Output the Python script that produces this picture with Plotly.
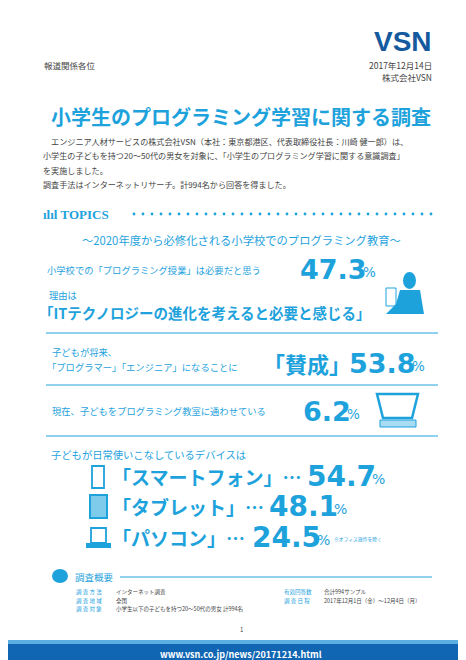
import plotly.graph_objects as go

FONT = "Noto Sans CJK JP"
NUMFONT = "DejaVu Sans"
BLUE = "#1ea2dc"
DARK = "#155a9e"
GREY = "#444444"

topic_pcts = [47.3, 53.8, 6.2]
devices = ["スマートフォン", "タブレット", "パソコン"]
device_pcts = [54.7, 48.1, 24.5]
device_y = [468, 498, 529]
body_lines = [
    "　エンジニア人材サービスの株式会社VSN（本社：東京都港区、代表取締役社長：川崎 健一郎）は、",
    "小学生の子どもを持つ20～50代の男女を対象に、「小学生のプログラミング学習に関する意識調査」",
    "を実施しました。",
    "調査手法はインターネットリサーチ。計994名から回答を得ました。",
]
detail_left = [("調 査 方 法", "インターネット調査"), ("調 査 地 域", "全国"),
               ("調 査 対 象", "小学生以下の子どもを持つ20～50代の男女 計994名")]
detail_right = [("有効回答数", "合計994サンプル"), ("調 査 日 程", "2017年12月1日（金）～12月4日（月）")]

fig = go.Figure()
ann = []


def txt(x, y, s, size, color=GREY, anchor="left", bold=False, family=FONT):
    ann.append(dict(x=x, y=y, text=f"<b>{s}</b>" if bold else s, showarrow=False,
                    xanchor=anchor, yanchor="middle", borderpad=0,
                    font=dict(family=family, size=size, color=color)))


def pct(x, y, value, size=27):
    # big number ending at x, small % sign after it
    txt(x, y, f"{value}", size, BLUE, "right", True, NUMFONT)
    txt(x - 6, y + 3, "%", size * 0.5, BLUE, "left", False, NUMFONT)


txt(425, 33, "VSN", 28, DARK, "right", True, "Liberation Sans")
txt(35, 57, "報道関係各位", 8.5)
txt(425, 57, "2017年12月14日", 8.5, GREY, "right")
txt(425, 69, "株式会社VSN", 8.5, GREY, "right")
txt(233, 108, "小学生のプログラミング学習に関する調査", 20, BLUE, "center", True)
for i, line in enumerate(body_lines):
    txt(34, 133 + i * 14.5, line, 8.1)

txt(34, 206, "<b>ılıl TOPICS</b>", 13, BLUE, family="Liberation Sans Narrow")
fig.add_trace(go.Scatter(x=list(range(126, 432, 9)), y=[206] * 34, mode="markers",
                         marker=dict(size=2.8, color=BLUE), hoverinfo="skip"))
txt(233, 232, "～2020年度から必修化される小学校でのプログラミング教育～", 11.3, BLUE, "center")

txt(38, 262, "小学校での「プログラミング授業」は必要だと思う", 9.3, BLUE)
pct(360, 261, topic_pcts[0])
txt(40, 287, "理由は", 9.3, BLUE)
txt(30, 304, "「ITテクノロジーの進化を考えると必要と感じる」", 14.5, BLUE, bold=True)
txt(43, 344, "子どもが将来、", 9.3, BLUE)
txt(38, 359, "「プログラマー」「エンジニア」になることに", 9.3, BLUE)
txt(254, 355, "「賛成」", 22, BLUE, bold=True)
pct(409, 355, topic_pcts[1])
txt(43, 403, "現在、子どもをプログラミング教室に通わせている", 9.3, BLUE)
pct(344, 403, topic_pcts[2])
for y in [325, 377, 428]:
    fig.add_shape(type="line", x0=38, x1=430, y0=y, y1=y, line=dict(color=BLUE, width=1))

txt(42, 446, "子どもが日常使いこなしているデバイスは", 10.3, BLUE)
num_end = [369, 331, 314]
for name, p, y, xe in zip(devices, device_pcts, device_y, num_end):
    txt(103, y, f"「{name}」…", 19, BLUE, bold=True)
    pct(xe, y, p, 28)
txt(325, 531, "※オフィス操作を除く", 4.8, BLUE)

# device icons
fig.add_shape(type="rect", x0=84, x1=96, y0=458, y1=480, line=dict(color=BLUE, width=1.8))
fig.add_shape(type="rect", x0=82, x1=99, y0=487, y1=510, fillcolor="#7fcbec", line=dict(color=BLUE, width=2))
fig.add_shape(type="rect", x0=83, x1=98, y0=520, y1=535, line=dict(color=BLUE, width=1.8))
fig.add_shape(type="rect", x0=78, x1=103, y0=535, y1=540, fillcolor=BLUE, line=dict(width=0))
# person & laptop icons
fig.add_shape(type="circle", x0=395, x1=408, y0=264, y1=281, fillcolor=BLUE, line=dict(width=0))
fig.add_shape(type="path", path="M 392 282 L 412 282 L 416 306 L 378 306 L 388 296 Z",
              fillcolor=BLUE, line=dict(width=0))
fig.add_shape(type="rect", x0=378, x1=388, y0=280, y1=298, line=dict(color=BLUE, width=1))
fig.add_shape(type="path", path="M 369 386 L 410 386 L 404 410 L 375 410 Z",
              line=dict(color=BLUE, width=2.5))
fig.add_shape(type="rect", x0=372, x1=408, y0=412, y1=419, fillcolor="#a8dcf3", line=dict(color=BLUE, width=1))

# 調査概要
fig.add_shape(type="circle", x0=44, x1=60, y0=561, y1=575, fillcolor=BLUE, line=dict(width=0))
txt(66, 569, "調査概要", 9.5, BLUE)
fig.add_shape(type="line", x0=112, x1=424, y0=569, y1=569, line=dict(color=BLUE, width=1))
for i, (k, v) in enumerate(detail_left):
    txt(67, 584 + i * 8.5, k, 5.5, BLUE)
    txt(107, 584 + i * 8.5, v, 5.5, GREY)
for i, (k, v) in enumerate(detail_right):
    txt(275, 584 + i * 8.5, k, 5.5, BLUE)
    txt(315, 584 + i * 8.5, v, 5.5, GREY)
txt(233, 621, "1", 6, GREY, "center")

fig.add_shape(type="rect", x0=0, x1=466, y0=632, y1=660, fillcolor="#1166b4", line=dict(width=0), layer="below")
fig.add_shape(type="rect", x0=0, x1=466, y0=632, y1=636, fillcolor="#5aaee0", line=dict(width=0), layer="below")
txt(233, 646, "<b>www.vsn.co.jp/news/20171214.html</b>", 9, "white", "center")

fig.update_layout(width=466, height=660, margin=dict(l=0, r=0, t=0, b=0),
                  plot_bgcolor="white", paper_bgcolor="white", showlegend=False,
                  annotations=ann,
                  xaxis=dict(range=[0, 466], visible=False, fixedrange=True),
                  yaxis=dict(range=[660, 0], visible=False, fixedrange=True))
fig.write_html("out.html", config={"displayModeBar": False})
